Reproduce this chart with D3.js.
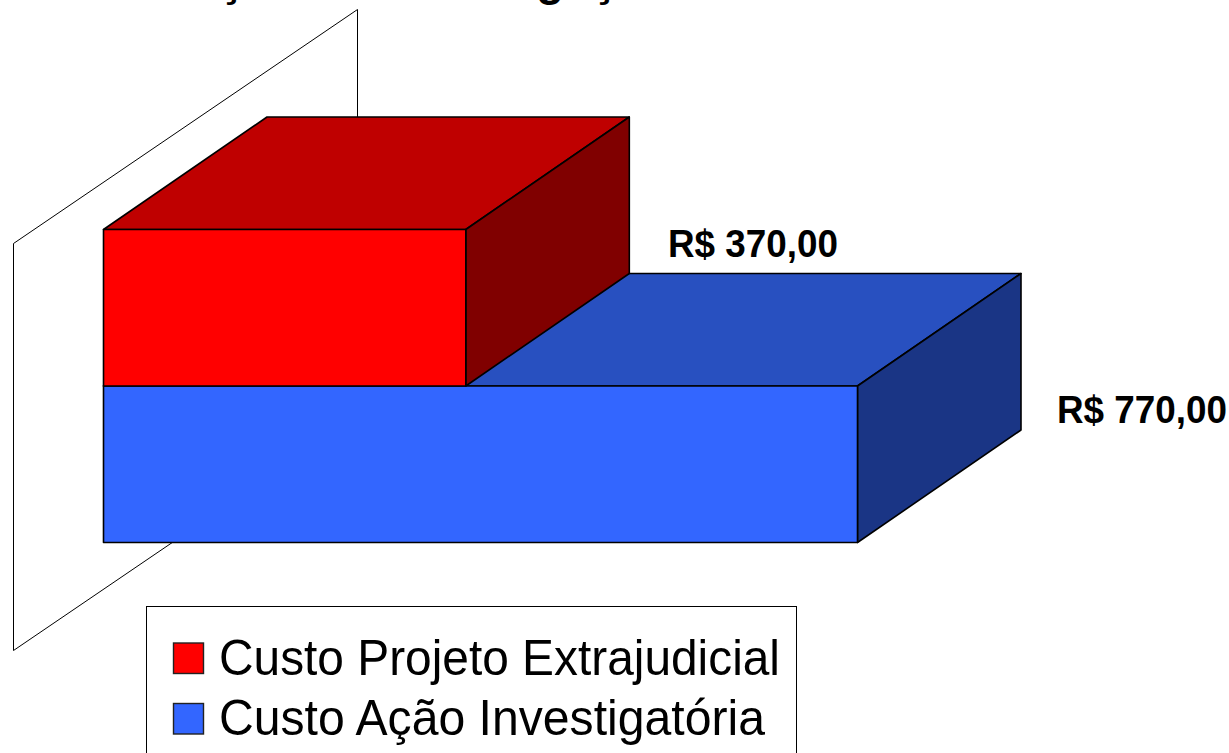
<!DOCTYPE html>
<html><head><meta charset="utf-8">
<script src="https://cdnjs.cloudflare.com/ajax/libs/d3/7.8.5/d3.min.js"></script>
<style>html,body{margin:0;padding:0;background:#fff}svg{display:block;font-family:"Liberation Sans",Arial,sans-serif}</style>
</head><body><svg id="c" width="1229" height="753"></svg>
<script>
const categories = ["Custo Ação Investigatória", "Custo Projeto Extrajudicial"];
const values = [770, 370];
const valueLabels = ["R$ 770,00", "R$ 370,00"];
const frontColors = ["#3366ff", "#ff0000"];
const topColors = ["#2850c0", "#bf0000"];
const sideColors = ["#1a3585", "#800000"];
const legendOrder = [1, 0];
const titleFragments = ["ç", "g", "ç"];

const svg = d3.select("#c");
const x = d3.scaleLinear().domain([0, 770]).range([103.5, 857.5]);
const y = d3.scaleBand().domain(d3.range(categories.length)).range([542.5, 229.5]);
const dx = 163.5, dy = -112.5;
const line = d3.line();

function poly(pts, fill, sw) {
  svg.append("path").attr("d", line(pts) + "Z").attr("fill", fill)
    .attr("stroke", "#000").attr("stroke-width", sw || 1.6).attr("stroke-linejoin", "round");
}

// back wall
const wx0 = 13.5, wx1 = 357.5;
poly([[wx0, 243.5], [wx1, 9.5], [wx1, 416.5], [wx0, 650.5]], "#fff", 1);

// title fragments, clipped by the top of the picture as in the reference
const titleX = [231, 550, 604];
svg.append("g").selectAll("text").data(titleFragments).join("text")
  .attr("x", (d, i) => titleX[i]).attr("y", -5.5)
  .attr("text-anchor", "middle").attr("font-weight", "bold").attr("font-size", 46).text(d => d);

// bars, bottom first
values.forEach((v, i) => {
  const x0 = x(0), x1 = x(v);
  const yB = y(i) + y.bandwidth(), yT = y(i);
  poly([[x0, yT], [x0 + dx, yT + dy], [x1 + dx, yT + dy], [x1, yT]], topColors[i]);
  poly([[x1, yT], [x1 + dx, yT + dy], [x1 + dx, yB + dy], [x1, yB]], sideColors[i]);
  poly([[x0, yT], [x1, yT], [x1, yB], [x0, yB]], frontColors[i]);
});

// value labels
const labelPos = [[1057, 423], [668, 257]];
valueLabels.forEach((t, i) => {
  svg.append("text").attr("x", labelPos[i][0]).attr("y", labelPos[i][1])
    .attr("font-weight", "bold").attr("font-size", 38).attr("textLength", 170)
    .attr("lengthAdjust", "spacingAndGlyphs").text(t);
});

// legend
svg.append("rect").attr("x", 146.5).attr("y", 606.5).attr("width", 650).attr("height", 160)
  .attr("fill", "#fff").attr("stroke", "#000").attr("stroke-width", 1);
const lw = [561, 546];
legendOrder.forEach((c, r) => {
  const yy = 643 + r * 60.5;
  svg.append("rect").attr("x", 173.5).attr("y", yy).attr("width", 30).attr("height", 30.5)
    .attr("fill", frontColors[c]).attr("stroke", "#222").attr("stroke-width", 1.4);
  svg.append("text").attr("x", 219).attr("y", yy + 31.5).attr("font-size", 50.5)
    .attr("textLength", lw[r]).attr("lengthAdjust", "spacingAndGlyphs").text(categories[c]);
});
</script></body></html>
